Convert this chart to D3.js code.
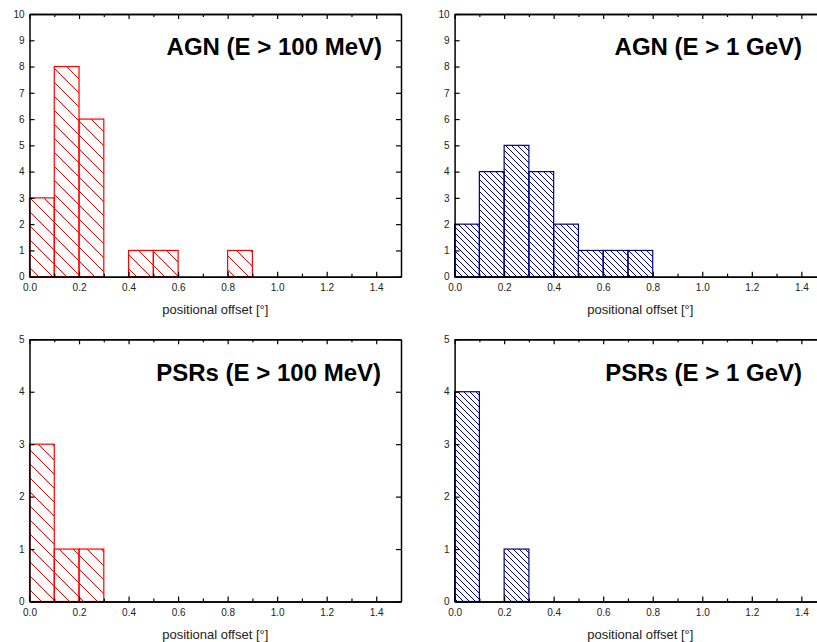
<!DOCTYPE html>
<html>
<head>
<meta charset="utf-8">
<script src="https://cdn.jsdelivr.net/npm/d3@7"></script>
<style>
  html, body { margin: 0; padding: 0; background: #fff; }
  svg { display: block; }
  text { font-family: "Liberation Sans", Arial, sans-serif; }
</style>
</head>
<body>
<svg id="chart" width="817" height="642"></svg>
<script>
// ---- data ----
const binWidth = 0.1;
const agn100 = [3, 8, 6, 0, 1, 1, 0, 0, 1];          // AGN E > 100 MeV, bins from 0.0
const agn1g  = [2, 4, 5, 4, 2, 1, 1, 1];             // AGN E > 1 GeV
const psr100 = [3, 1, 1];                            // PSRs E > 100 MeV
const psr1g  = [4, 0, 1];                            // PSRs E > 1 GeV
const xMajorTicks = [0.0, 0.2, 0.4, 0.6, 0.8, 1.0, 1.2, 1.4];
const xMinorTicks = [0.1, 0.3, 0.5, 0.7, 0.9, 1.1, 1.3];
const titles = ["AGN (E > 100 MeV)", "AGN (E > 1 GeV)", "PSRs (E > 100 MeV)", "PSRs (E > 1 GeV)"];
const xLabel = "positional offset [°]";

const svg = d3.select("#chart");
const defs = svg.append("defs");

function hatch(id, size, color) {
  const p = defs.append("pattern").attr("id", id)
    .attr("patternUnits", "userSpaceOnUse")
    .attr("width", size).attr("height", size);
  p.append("path")
    .attr("d", `M0,0L${size},${size}M${-size},0L0,${size}M${size},${-size}L${2*size},0`)
    .attr("stroke", color).attr("stroke-width", 1).attr("fill", "none");
}
hatch("hatchRed", 14, "#ff0000");
hatch("hatchBlue", 6, "#000080");

const panels = [
  { data: agn100, ymax: 10, color: "#ff0000", pat: "hatchRed",  left: 29.5,  top: 14,    bottom: 276.7, title: titles[0], titleX: 382, titleY: 55 },
  { data: agn1g,  ymax: 10, color: "#000080", pat: "hatchBlue", left: 454.6, top: 14,    bottom: 276.7, title: titles[1], titleX: 802, titleY: 55 },
  { data: psr100, ymax: 5,  color: "#ff0000", pat: "hatchRed",  left: 29.5,  top: 339.3, bottom: 601.5, title: titles[2], titleX: 381, titleY: 381 },
  { data: psr1g,  ymax: 5,  color: "#000080", pat: "hatchBlue", left: 454.6, top: 339.3, bottom: 601.5, title: titles[3], titleX: 802, titleY: 381 }
];
const plotW = 371.5;

panels.forEach(p => {
  const x = d3.scaleLinear().domain([0, 1.5]).range([p.left, p.left + plotW]);
  const y = d3.scaleLinear().domain([0, p.ymax]).range([p.bottom, p.top]);
  const g = svg.append("g");

  // bars
  const bins = p.data.map((v, i) => ({ x0: i * binWidth, x1: (i + 1) * binWidth, v }))
    .filter(d => d.v > 0);
  g.selectAll("rect.bar").data(bins).join("rect")
    .attr("class", "bar")
    .attr("x", d => x(d.x0))
    .attr("width", d => x(d.x1) - x(d.x0))
    .attr("y", d => y(d.v))
    .attr("height", d => y(0) - y(d.v))
    .attr("fill", `url(#${p.pat})`)
    .attr("stroke", p.color)
    .attr("stroke-width", 1.2);

  const style = sel => {
    sel.select(".domain").attr("stroke", "#000").attr("stroke-width", 1.5);
    sel.selectAll(".tick line").attr("stroke", "#000").attr("stroke-width", 1.2);
    sel.selectAll(".tick text").attr("font-size", 10).attr("fill", "#222")
      .attr("font-family", "'Liberation Sans', Arial, sans-serif");
  };

  // bottom axis (major with labels, minor without)
  g.append("g").attr("transform", `translate(0,${p.bottom})`)
    .call(d3.axisBottom(x).tickValues(xMajorTicks).tickFormat(d3.format(".1f"))
      .tickSize(-5).tickSizeOuter(0).tickPadding(7)).call(style);
  g.append("g").attr("transform", `translate(0,${p.bottom})`)
    .call(d3.axisBottom(x).tickValues(xMinorTicks).tickFormat("")
      .tickSize(-3).tickSizeOuter(0)).call(style);
  // top axis
  g.append("g").attr("transform", `translate(0,${p.top})`)
    .call(d3.axisTop(x).tickValues(xMajorTicks).tickFormat("")
      .tickSize(-5).tickSizeOuter(0)).call(style);
  g.append("g").attr("transform", `translate(0,${p.top})`)
    .call(d3.axisTop(x).tickValues(xMinorTicks).tickFormat("")
      .tickSize(-3).tickSizeOuter(0)).call(style);
  // left axis
  g.append("g").attr("transform", `translate(${p.left},0)`)
    .call(d3.axisLeft(y).ticks(p.ymax).tickFormat(d3.format("d"))
      .tickSize(-5).tickSizeOuter(0).tickPadding(5)).call(style);
  // right axis
  g.append("g").attr("transform", `translate(${p.left + plotW},0)`)
    .call(d3.axisRight(y).ticks(p.ymax).tickFormat("")
      .tickSize(-5).tickSizeOuter(0)).call(style);

  // title
  g.append("text")
    .attr("x", p.titleX).attr("y", p.titleY)
    .attr("text-anchor", "end")
    .attr("font-size", 24).attr("font-weight", "bold")
    .attr("fill", "#000")
    .text(p.title);

  // x label
  g.append("text")
    .attr("x", p.left + plotW / 2).attr("y", p.bottom + 37)
    .attr("text-anchor", "middle")
    .attr("font-size", 13).attr("fill", "#222")
    .text(xLabel);
});
</script>
</body>
</html>
